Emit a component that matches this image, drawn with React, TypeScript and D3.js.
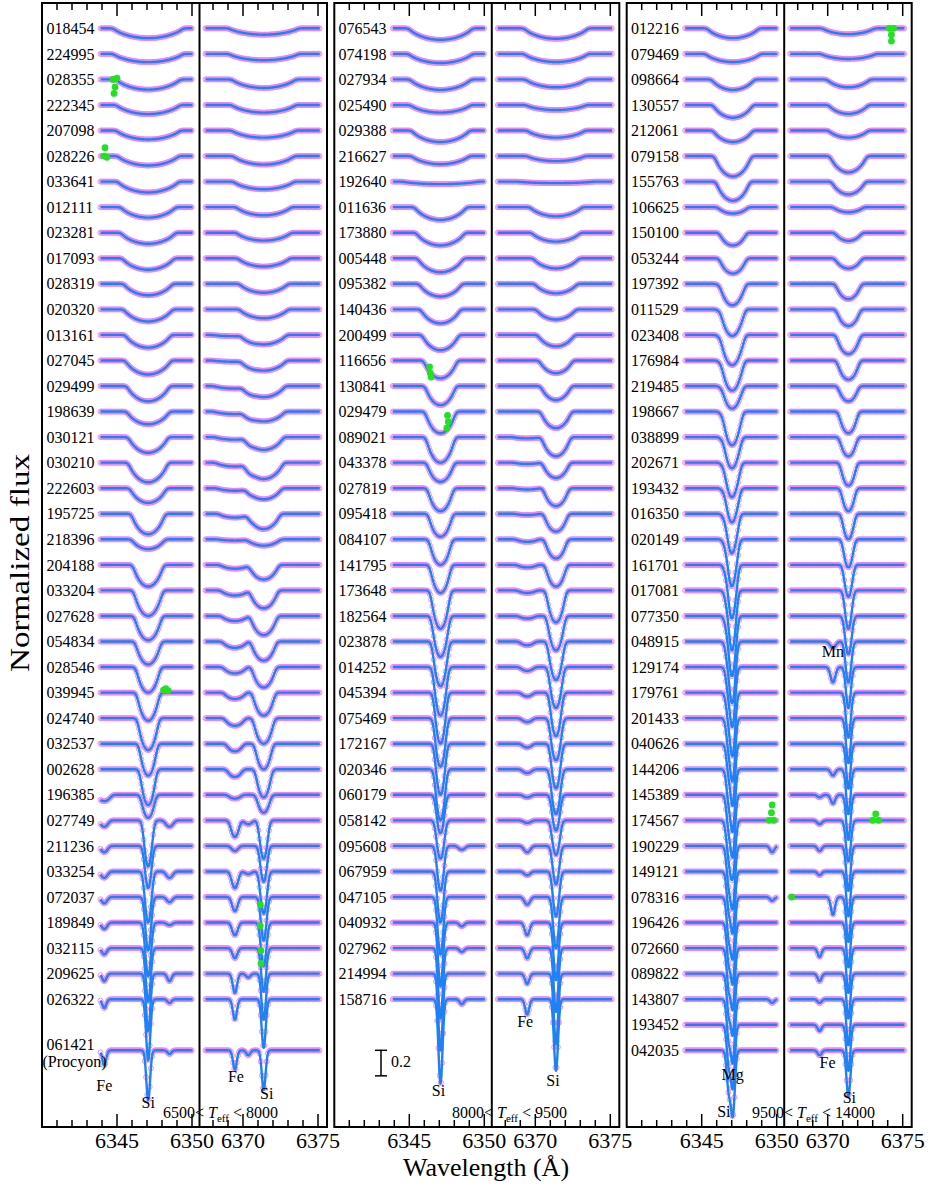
import React from "react";
import * as d3 from "d3";

// star ids, top to bottom, per temperature group
const g1Ids = ["018454","224995","028355","222345","207098","028226","033641","012111","023281","017093","028319","020320","013161","027045","029499","198639","030121","030210","222603","195725","218396","204188","033204","027628","054834","028546","039945","024740","032537","002628","196385","027749","211236","033254","072037","189849","032115","209625","026322","061421"];
const g2Ids = ["076543","074198","027934","025490","029388","216627","192640","011636","173880","005448","095382","140436","200499","116656","130841","029479","089021","043378","027819","095418","084107","141795","173648","182564","023878","014252","045394","075469","172167","020346","060179","058142","095608","067959","047105","040932","027962","214994","158716"];
const g3Ids = ["012216","079469","098664","130557","212061","079158","155763","106625","150100","053244","197392","011529","023408","176984","219485","198667","038899","202671","193432","016350","020149","161701","017081","077350","048915","129174","179761","201433","040626","144206","145389","174567","190229","149121","078316","196426","072660","089822","143807","193452","042035"];

// rotational half-width (Angstrom) per star
const g1Width = [2.3,2.3,2.1,2.1,2.1,2.0,2.0,1.8,1.8,1.7,1.6,1.6,1.5,1.5,1.4,1.4,1.3,1.3,1.2,1.1,1.1,1.0,0.95,0.9,0.85,0.8,0.75,0.7,0.6,0.55,0.5,0.35,0.3,0.3,0.25,0.25,0.2,0.15,0.12,0.08];
const g2Width = [2.1,2.1,2.0,2.0,1.9,1.9,2.5,1.7,1.6,1.5,1.4,1.3,1.2,1.1,1.0,1.0,0.95,0.9,0.85,0.8,0.75,0.7,0.65,0.6,0.55,0.5,0.45,0.45,0.4,0.4,0.35,0.35,0.3,0.28,0.25,0.2,0.18,0.15,0.12];
const g3Width = [1.7,1.8,1.4,1.3,1.3,1.2,1.1,1.0,0.9,0.9,0.85,0.8,0.8,0.75,0.7,0.65,0.6,0.55,0.5,0.45,0.4,0.35,0.3,0.3,0.25,0.2,0.2,0.18,0.15,0.15,0.15,0.2,0.15,0.12,0.12,0.1,0.1,0.1,0.1,0.1,0.1];

// Si II 6347 depth
const g1SiA = [0.077,0.065,0.08,0.072,0.07,0.074,0.085,0.082,0.087,0.09,0.09,0.095,0.1,0.11,0.12,0.1,0.123,0.154,0.115,0.16,0.077,0.17,0.2,0.19,0.18,0.2,0.22,0.25,0.25,0.28,0.18,0.36,0.33,0.4,0.42,0.42,0.42,0.45,0.48,0.39];
const g2SiA = [0.09,0.072,0.082,0.06,0.09,0.064,0.02,0.1,0.1,0.11,0.1,0.11,0.12,0.14,0.15,0.17,0.2,0.15,0.18,0.18,0.2,0.22,0.3,0.32,0.35,0.38,0.4,0.38,0.4,0.4,0.3,0.3,0.35,0.4,0.45,0.5,0.55,0.6,0.66];
const g3SiA = [0.077,0.064,0.082,0.1,0.09,0.16,0.15,0.05,0.1,0.12,0.15,0.18,0.2,0.2,0.15,0.22,0.2,0.22,0.22,0.25,0.3,0.35,0.4,0.4,0.42,0.42,0.45,0.45,0.45,0.45,0.45,0.4,0.45,0.45,0.45,0.45,0.45,0.45,0.47,0.47,0.49];

// Si II 6371 depth
const g1SiB = [0.05,0.05,0.067,0.06,0.056,0.067,0.06,0.064,0.062,0.065,0.07,0.07,0.075,0.08,0.087,0.077,0.1,0.128,0.087,0.12,0.05,0.115,0.14,0.15,0.15,0.16,0.18,0.2,0.2,0.22,0.14,0.3,0.28,0.33,0.34,0.34,0.34,0.36,0.38,0.31];
const g2SiB = [0.082,0.064,0.062,0.04,0.056,0.04,0.012,0.072,0.07,0.08,0.075,0.08,0.09,0.1,0.11,0.13,0.15,0.12,0.14,0.14,0.15,0.17,0.25,0.27,0.3,0.32,0.34,0.33,0.35,0.35,0.28,0.27,0.3,0.35,0.4,0.45,0.5,0.55,0.56];
const g3SiB = [0.046,0.04,0.062,0.07,0.056,0.128,0.1,0.04,0.064,0.08,0.12,0.13,0.15,0.15,0.12,0.17,0.15,0.18,0.18,0.2,0.22,0.25,0.3,0.3,0.32,0.32,0.35,0.35,0.35,0.35,0.35,0.32,0.35,0.35,0.35,0.35,0.35,0.35,0.36,0.36,0.36];

// Fe II 6369 depth
const g1Fe = [0,0,0,0,0,0,0,0,0,0,0,0,0.01,0.01,0.02,0.02,0.02,0.03,0.02,0.03,0.01,0.03,0.04,0.04,0.05,0.05,0.05,0.06,0.06,0.06,0.03,0.13,0.04,0.13,0.11,0.1,0.08,0.15,0.16,0.15];
const g2Fe = [0,0,0,0,0,0,0,0,0,0,0,0,0,0,0,0,0.01,0.01,0.01,0.01,0.02,0.02,0.02,0.02,0.03,0.03,0.03,0.03,0.03,0.03,0.02,0.02,0.05,0.03,0.06,0.1,0.08,0.08,0.12];
const g3Fe = [0,0,0,0,0,0,0,0,0,0,0,0,0,0,0,0,0,0,0,0,0,0,0,0,0,0,0,0,0,0,0.02,0.03,0.04,0.03,0,0,0.07,0.06,0.03,0.05,0.04];

// Mg II 6346.8 depth (hot group)
const g3Mg = [0,0,0,0,0,0,0,0,0,0,0.02,0.03,0.04,0.04,0.03,0.05,0.05,0.06,0.06,0.08,0.1,0.12,0.15,0.15,0.18,0.2,0.2,0.22,0.22,0.24,0.25,0.25,0.28,0.28,0.3,0.3,0.3,0.3,0.3,0.3,0.3];

// weak lines: [group, row, wavelength, depth]
const weakLines = [
  [0,30,6344.15,0.05],[0,31,6344.15,0.05],[0,32,6344.15,0.05],[0,33,6344.15,0.05],[0,34,6344.15,0.05],[0,35,6344.15,0.05],[0,36,6344.15,0.05],[0,37,6344.15,0.06],[0,38,6344.15,0.07],[0,39,6344.15,0.12],
  [0,31,6348.5,0.05],[0,33,6348.5,0.05],[0,34,6348.5,0.04],[0,35,6348.5,0.02],[0,37,6348.5,0.06],[0,38,6348.5,0.03],[0,39,6348.5,0.03],
  [0,31,6370.35,0.03],[0,33,6370.35,0.02],[0,37,6370.35,0.03],[0,39,6370.35,0.04],
  [1,32,6348.5,0.03],[1,35,6348.5,0.03],[1,36,6348.5,0.03],[1,38,6348.5,0.04],
  [2,32,6349.7,0.05],[2,34,6349.7,0.03],[2,38,6349.7,0.03],
  [2,24,6370.35,0.05],[2,25,6370.35,0.12],[2,29,6370.35,0.05],[2,30,6370.35,0.07],[2,34,6370.35,0.14],
];

// flagged pixels (green): [group, row, wavelength, flux offset from continuum]
const greenPts = [
  [0,2,6344.73,0.0],[0,2,6345.0,0.01],[0,2,6344.87,-0.06],[0,2,6344.8,-0.11],
  [0,5,6344.2,0.065],[0,5,6344.13,0.0],[0,5,6344.33,-0.01],
  [0,26,6348.1,0.02],[0,26,6348.25,0.03],[0,26,6348.4,0.015],
  [0,34,6371.15,-0.06],[0,35,6371.15,-0.025],[0,36,6371.2,-0.02],[0,36,6371.2,-0.12],
  [1,13,6346.35,-0.05],[1,13,6346.4,-0.1],[1,13,6346.45,-0.13],
  [1,15,6347.55,-0.03],[1,15,6347.6,-0.08],[1,15,6347.5,-0.13],
  [2,0,6374.1,0.0],[2,0,6374.4,0.0],[2,0,6374.25,-0.05],[2,0,6374.25,-0.1],
  [2,31,6349.5,0.0],[2,31,6349.8,0.0],[2,31,6349.65,0.06],[2,31,6349.7,0.12],
  [2,31,6373.0,0.0],[2,31,6373.4,0.0],[2,31,6373.2,0.05],
  [2,34,6367.6,0.0],
];

const groupIds = [g1Ids, g2Ids, g3Ids];
const groupWidth = [g1Width, g2Width, g3Width];
const groupSiA = [g1SiA, g2SiA, g3SiA];
const groupSiB = [g1SiB, g2SiB, g3SiB];
const groupFe = [g1Fe, g2Fe, g3Fe];

const SI_A = 6347.08, SI_B = 6371.38, FE_B = 6369.46, MG = 6346.8;
const offsets = [0, 292.3, 584.7];
const TOP = 3, BOT = 1127;
const xA = d3.scaleLinear().domain([6340, 6350.5]).range([42, 199.5]);
const xB = d3.scaleLinear().domain([6367.1, 6375.6]).range([199.5, 327]);
const yS = d3.scaleLinear().domain([1, 0]).range([28.3, 28.3 + 127.75]);
const STEP = 0.2;
const rowPos = (g: number, i: number) => (g === 0 && i === 39 ? 40 : i);

const SIG = 0.12, LD = 0.6, KN = 40;
const kernel = d3.range(KN).map((k) => {
  const u = -1 + (2 * k + 1) / KN;
  return { u, k: 2 * (1 - LD) * Math.sqrt(1 - u * u) + (Math.PI * LD / 2) * (1 - u * u) };
});
function shapeFn(w: number) {
  const raw = (dl: number) => {
    let s = 0;
    for (const q of kernel) s += q.k * Math.exp(-((dl - q.u * w) ** 2) / (2 * SIG * SIG));
    return s;
  };
  const s0 = raw(0);
  return (dl: number) => raw(dl) / s0;
}

function spectrum(lines: [number, number][], w: number, lo: number, hi: number) {
  const sh = shapeFn(w);
  const pts: [number, number][] = [];
  for (let l = lo; l <= hi + 1e-9; l += 0.02) {
    let f = 1;
    for (const [c, d] of lines) if (d > 0) f -= d * sh(l - c);
    pts.push([l, f]);
  }
  return pts;
}

function circlesPath(pts: [number, number][]) {
  const r = 2.5;
  return pts.map(([x, y]) => `M${(x - r).toFixed(1)},${y.toFixed(1)}a${r},${r} 0 1,0 ${2 * r},0a${r},${r} 0 1,0 ${-2 * r},0`).join("");
}

const serif = "'Liberation Serif', 'Times New Roman', serif";

export default function App() {
  const line = d3.line<[number, number]>();
  const elems: React.ReactNode[] = [];
  const pinks: string[] = [];
  const blues: string[] = [];

  groupIds.forEach((ids, g) => {
    const off = offsets[g];
    ids.forEach((id, i) => {
      const r = rowPos(g, i);
      const w = groupWidth[g][i];
      const weak = weakLines.filter((d) => d[0] === g && d[1] === i);
      const linesA: [number, number][] = [[SI_A, groupSiA[g][i]]];
      if (g === 2) linesA.push([MG, g3Mg[i]]);
      weak.filter((d) => d[2] < 6360).forEach((d) => linesA.push([d[2], d[3]]));
      const linesB: [number, number][] = [[SI_B, groupSiB[g][i]], [FE_B, groupFe[g][i]]];
      weak.filter((d) => d[2] > 6360).forEach((d) => linesB.push([d[2], d[3]]));
      const specA = spectrum(linesA, w, 6343.9, 6350.05);
      const specB = spectrum(linesB, w, 6367.5, 6375.12);
      const toPx = (sp: [number, number][], xs: d3.ScaleLinear<number, number>) =>
        sp.map(([l, f]) => [xs(l) + off, yS(f - STEP * r)] as [number, number]);
      const pa = toPx(specA, xA), pb = toPx(specB, xB);
      pinks.push(circlesPath(pa.filter((_, k) => k % 4 === 0)));
      pinks.push(circlesPath(pb.filter((_, k) => k % 4 === 0)));
      blues.push(line(pa) || "");
      blues.push(line(pb) || "");
      const isProcyon = g === 0 && i === 39;
      elems.push(
        <text key={`id${g}-${i}`} x={[46.5, 338.5, 631][g]} y={yS(1 - STEP * r) + (isProcyon ? -4 : 2)} fontSize={16} fontFamily={serif} dominantBaseline="middle">
          {id}
        </text>
      );
    });
  });

  const ticks: React.ReactNode[] = [];
  offsets.forEach((off, g) => {
    d3.range(6341, 6351).forEach((t) => {
      const x = xA(t) + off;
      const len = t % 5 === 0 ? 13 : 7;
      ticks.push(<line key={`ta${g}${t}`} x1={x} x2={x} y1={TOP} y2={TOP + len} stroke="#000" strokeWidth={1.5} />);
      ticks.push(<line key={`ba${g}${t}`} x1={x} x2={x} y1={BOT} y2={BOT - len} stroke="#000" strokeWidth={1.5} />);
    });
    d3.range(6368, 6376).forEach((t) => {
      const x = xB(t) + off;
      const len = t % 5 === 0 ? 13 : 7;
      ticks.push(<line key={`tb${g}${t}`} x1={x} x2={x} y1={TOP} y2={TOP + len} stroke="#000" strokeWidth={1.5} />);
      ticks.push(<line key={`bb${g}${t}`} x1={x} x2={x} y1={BOT} y2={BOT - len} stroke="#000" strokeWidth={1.5} />);
    });
    [6345, 6350].forEach((t) =>
      ticks.push(<text key={`la${g}${t}`} x={xA(t) + off} y={1148} fontSize={22} textAnchor="middle" fontFamily={serif}>{t}</text>)
    );
    [6370, 6375].forEach((t) =>
      ticks.push(<text key={`lb${g}${t}`} x={xB(t) + off} y={1148} fontSize={22} textAnchor="middle" fontFamily={serif}>{t}</text>)
    );
  });

  const teff = (x: number, lo: string, hi: string) => (
    <text x={x} y={1118} fontSize={16} fontFamily={serif}>
      {lo}&lt; <tspan fontStyle="italic">T</tspan>
      <tspan fontSize={11} dy={4}>eff</tspan>
      <tspan dy={-4}> &lt; {hi}</tspan>
    </text>
  );

  const lab = (key: string, x: number, y: number, t: string) => (
    <text key={key} x={x} y={y} fontSize={16} textAnchor="middle" fontFamily={serif}>{t}</text>
  );

  const barY0 = yS(1 - STEP * 40), barY1 = yS(1 - 0.2 - STEP * 40);

  return (
    <svg width={929} height={1188} style={{ position: "absolute", left: 0, top: 0, background: "#fff" }}>
      <rect x={0} y={0} width={929} height={1188} fill="#fff" />
      <g fill="none" stroke="#ee82ee" strokeWidth={0.9}>
        {pinks.map((d, k) => <path key={k} d={d} />)}
      </g>
      <g fill="none" stroke="#1e82f5" strokeWidth={2.4} strokeLinejoin="round">
        {blues.map((d, k) => <path key={k} d={d} />)}
      </g>
      <g fill="#22e022">
        {greenPts.map((p, k) => {
          const [g, i, l, df] = p;
          const xs = l < 6360 ? xA : xB;
          return <circle key={k} cx={xs(l) + offsets[g]} cy={yS(1 + df - STEP * rowPos(g, i))} r={3.4} />;
        })}
      </g>
      {offsets.map((off, g) => (
        <g key={`fr${g}`} fill="none" stroke="#000" strokeWidth={2}>
          <rect x={42 + off} y={TOP} width={285} height={BOT - TOP} />
          <line x1={199.5 + off} x2={199.5 + off} y1={TOP} y2={BOT} />
        </g>
      ))}
      {ticks}
      {elems}
      <text x={42.5} y={yS(1 - STEP * 40) + 13} fontSize={16} fontFamily={serif} dominantBaseline="middle">(Procyon)</text>
      {lab("fe1", xA(6344.15), 1091, "Fe")}
      {lab("si1", xA(SI_A), 1108, "Si")}
      {lab("fe2", xB(FE_B) + 1, 1082, "Fe")}
      {lab("si2", xB(SI_B) + 3, 1099, "Si")}
      {lab("si3", xA(SI_A) + offsets[1] - 2, 1096, "Si")}
      {lab("fe4", xB(FE_B) + offsets[1] - 2, 1027, "Fe")}
      {lab("si4", xB(SI_B) + offsets[1] - 3, 1086, "Si")}
      {lab("mg5", xA(MG) + offsets[2] + 4, 1080, "Mg")}
      {lab("si5", xA(SI_A) + offsets[2] - 9, 1117, "Si")}
      {lab("fe6", xB(FE_B) + offsets[2] + 8, 1068, "Fe")}
      {lab("si6", xB(SI_B) + offsets[2] + 1, 1103, "Si")}
      {lab("mn6", xB(6370.35) + offsets[2], yS(1 - STEP * 25) - 10, "Mn")}
      {teff(163, "6500", "8000")}
      {teff(452, "8000", "9500")}
      {teff(752, "9500", "14000")}
      <g stroke="#000" strokeWidth={1.5}>
        <line x1={381} x2={381} y1={barY0} y2={barY1} />
        <line x1={375} x2={387} y1={barY0} y2={barY0} />
        <line x1={375} x2={387} y1={barY1} y2={barY1} />
      </g>
      <text x={391} y={(barY0 + barY1) / 2} fontSize={16} fontFamily={serif} dominantBaseline="middle">0.2</text>
      <text x={486} y={1176} fontSize={26} textAnchor="middle" fontFamily={serif}>Wavelength (Å)</text>
      <text transform="translate(29,563) rotate(-90)" fontSize={28} textAnchor="middle" fontFamily={serif} textLength={218} lengthAdjust="spacingAndGlyphs">Normalized flux</text>
    </svg>
  );
}
